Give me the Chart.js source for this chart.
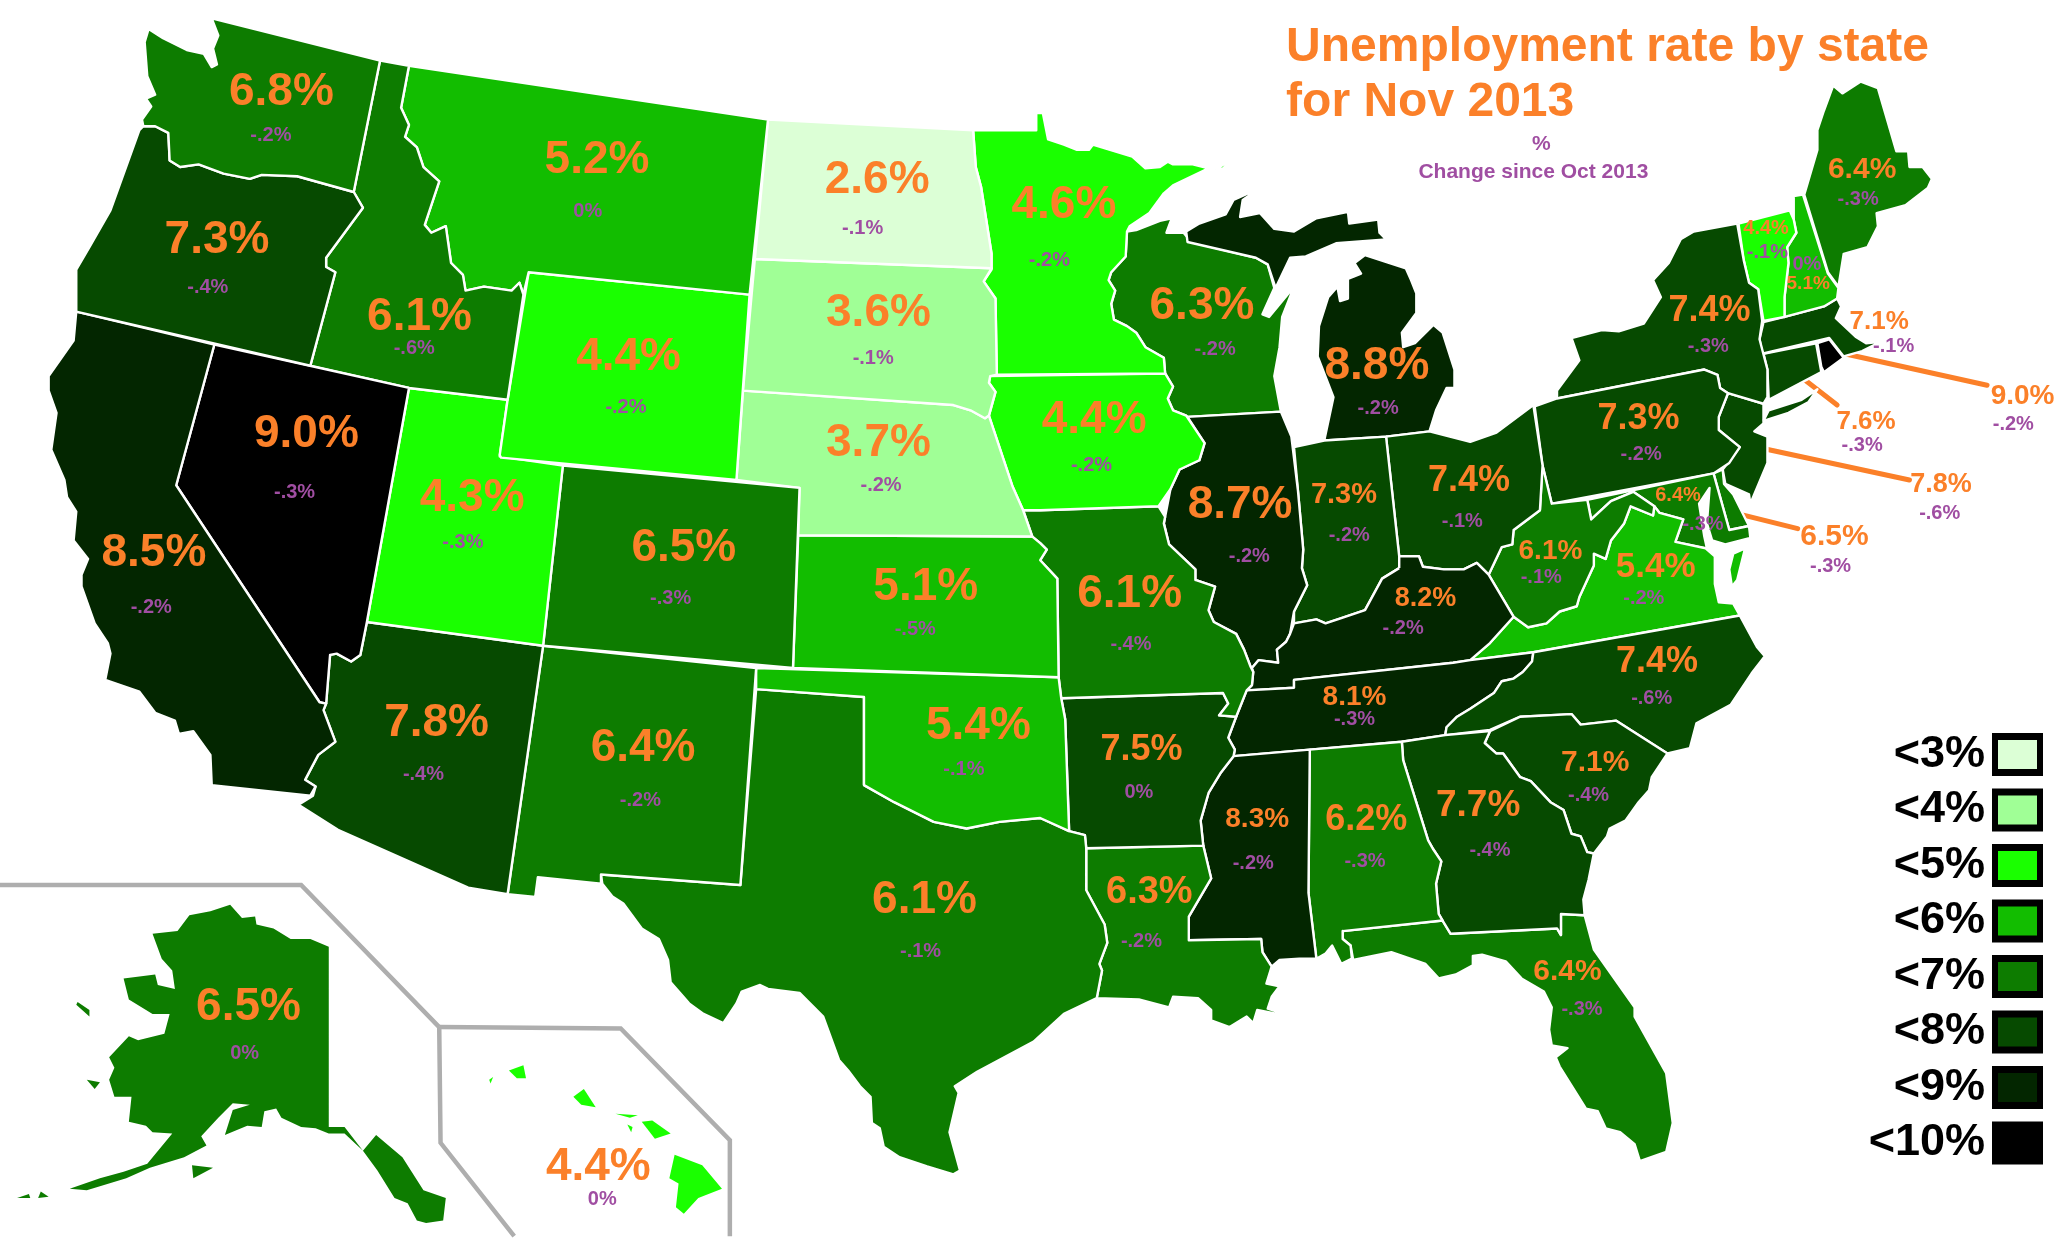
<!DOCTYPE html>
<html><head><meta charset="utf-8">
<style>html,body{margin:0;padding:0;background:#fff}canvas{display:block}</style>
<script src="https://cdn.jsdelivr.net/npm/chart.js@4"></script>
</head><body><canvas id="c" width="2062" height="1248" style="width:2062px;height:1248px"></canvas>
<script>
// ---- data ----
const stateCodes = ["WA","OR","CA","NV","ID","MT","WY","UT","CO","AZ","NM","ND","SD","NE","KS","OK","TX","MN","IA","MO","AR","LA","MS","AL","GA","SC","FL","NC","TN","KY","IL","IN","OH","MI","WI","WV","VA","MD","PA","NY","ME","VT","NH","MA","RI","CT","NJ","DE","AK","HI"];
const rates = [6.8,7.3,8.5,9.0,6.1,5.2,4.4,4.3,6.5,7.8,6.4,2.6,3.6,3.7,5.1,5.4,6.1,4.6,4.4,6.1,7.5,6.3,8.3,6.2,7.7,7.1,6.4,7.4,8.1,8.2,8.7,7.3,7.4,8.8,6.3,6.1,5.4,6.4,7.3,7.4,6.4,4.4,5.1,7.1,9.0,7.6,7.8,6.5,6.5,4.4];
const changes = ["-.2%","-.4%","-.2%","-.3%","-.6%","0%","-.2%","-.3%","-.3%","-.4%","-.2%","-.1%","-.1%","-.2%","-.5%","-.1%","-.1%","-.2%","-.2%","-.4%","0%","-.2%","-.2%","-.3%","-.4%","-.4%","-.3%","-.6%","-.3%","-.2%","-.2%","-.2%","-.1%","-.2%","-.2%","-.1%","-.2%","-.3%","-.2%","-.3%","-.3%","-.1%","0%","-.1%","-.2%","-.3%","-.6%","-.3%","0%","0%"];
const legendLabels = ["<3%","<4%","<5%","<6%","<7%","<8%","<9%","<10%"];
const legendLimits = [3,4,5,6,7,8,9,10];
const titleLines = ["Unemployment rate by state","for Nov 2013"];
const subtitleLines = ["%","Change since Oct 2013"];

// ---- presentation ----
const bucketColors = ["#dcffd6","#a0ff96","#1aff00","#12bd00","#0d7c00","#064a00","#032600","#000000"];
const ORANGE = "#fb8029", PURPLE = "#a04ea2", GREY = "#aeaeae";

// map geometry (state outlines) in map units
const statePaths = {
WA:[[113,22,124,29,142,38,155,41,161,51,165,49,162,37,166,27,161,14,289,46,269,146,226,134,199,133,190,136,170,132,151,125,137,127,129,122,128,101,118,96,109,96,108,91,115,81,111,75,118,72,112,58,110,32]],
OR:[[106,99,109,96,118,96,128,101,129,122,137,127,151,125,170,132,190,136,199,133,226,134,269,146,276,158,262,177,248,196,248,203,255,207,236,278,58,237,58,205,68,188,84,160]],
CA:[[58,237,163,262,134,369,243,534,248,535,246,540,255,564,242,574,232,593,240,598,236,605,161,597,160,574,147,556,136,558,133,548,118,542,106,526,80,517,84,497,82,489,72,474,62,446,62,437,67,425,56,411,58,389,51,378,49,365,39,342,43,314,37,297,37,286,56,259]],
NV:[[163,262,311,295,279,473,274,498,267,503,256,497,251,498,248,535,243,534,134,369]],
ID:[[289,46,311,50,305,82,311,95,308,104,317,112,322,127,334,138,323,171,328,177,339,172,343,200,352,209,354,221,368,218,389,221,395,215,398,224,386,304,311,295,236,278,255,207,248,203,248,196,262,177,276,158,269,146]],
MT:[[311,50,584,91,570,224,402,207,398,224,395,215,389,221,368,218,354,221,352,209,343,200,339,172,328,177,323,171,334,138,322,127,317,112,308,104,311,95,305,82]],
WY:[[402,207,570,224,560,365,381,348,380,346,386,304]],
UT:[[311,295,386,304,380,347,428,354,413,491,279,473]],
CO:[[428,354,608,371,603,508,413,491]],
AZ:[[279,473,413,491,386,680,356,675,257,631,227,612,238,605,240,598,232,593,242,574,255,564,246,540,248,535,251,498,256,497,267,503,274,498]],
NM:[[413,491,575,508,563,673,457,665,457,672,409,667,407,682,386,680]],
ND:[[584,91,740,99,742,127,746,142,754,193,754,204,574,197]],
SD:[[574,197,754,204,748,214,757,227,758,285,753,286,752,291,757,298,752,316,749,318,738,312,725,308,565,297]],
NE:[[565,297,725,308,738,312,749,318,752,316,770,370,778,388,785,408,607,407,608,371,560,365]],
KS:[[607,407,785,408,791,413,796,418,791,426,804,440,805,515,603,508]],
OK:[[575,508,805,515,807,531,810,547,813,632,791,622,760,625,735,630,710,625,680,610,657,597,657,530,575,524]],
TX:[[575,524,657,530,657,597,680,610,710,625,735,630,760,625,791,622,813,632,825,635,826,645,826,677,840,703,842,717,836,733,838,738,834,759,809,771,786,792,743,815,726,826,729,831,722,861,730,890,725,893,705,887,684,880,672,872,669,858,663,854,662,834,654,826,645,814,638,806,626,773,608,755,584,752,578,749,564,754,560,763,550,778,535,771,524,763,510,747,508,730,501,714,488,706,474,687,466,682,458,672,457,665,563,673]],
MN:[[740,99,788,99,788,86,793,86,797,106,809,110,819,114,828,114,831,110,861,119,871,128,882,127,888,123,892,125,907,125,919,128,892,141,885,147,874,162,859,172,857,176,856,195,845,207,843,213,848,221,845,231,847,243,857,248,864,253,871,264,885,272,886,284,758,285,757,227,748,214,754,205,754,193,746,142,742,127],[924,129,939,120,930,128]],
IA:[[753,286,886,284,892,294,888,303,892,312,902,316,916,337,912,350,897,357,890,372,881,385,791,388,778,388,770,370,752,316,757,298,752,291]],
MO:[[778,388,791,388,881,385,886,393,885,398,889,414,909,433,909,441,924,446,919,464,923,473,940,482,946,494,951,507,953,511,952,521,948,525,940,545,927,544,934,535,930,527,807,531,805,515,804,440,791,426,796,418,791,413,785,408]],
AR:[[807,531,930,527,934,535,927,544,940,545,934,561,939,570,938,575,928,588,919,603,913,624,915,643,826,645,825,635,813,632,810,547]],
LA:[[826,645,915,643,921,668,904,697,904,715,959,714,960,724,967,735,963,748,973,750,967,758,964,767,986,774,976,772,956,768,953,778,948,773,935,781,921,776,921,768,911,759,892,758,889,766,866,760,834,759,838,738,836,733,842,717,840,703,826,677]],
MS:[[938,575,996,570,995,679,1001,729,988,729,973,730,967,735,960,724,959,714,904,715,904,697,921,668,915,643,913,624,919,603,928,588]],
AL:[[996,570,1066,564,1067,578,1086,639,1090,646,1096,655,1092,672,1094,695,1097,700,1021,708,1021,714,1027,719,1028,729,1020,733,1013,719,1008,725,1001,729,995,679]],
GA:[[1066,564,1099,559,1133,556,1129,565,1138,573,1143,573,1156,591,1164,594,1179,610,1189,616,1195,634,1202,636,1207,648,1212,649,1208,669,1204,684,1205,696,1187,695,1187,711,1184,706,1103,710,1097,700,1094,695,1092,672,1096,655,1090,646,1086,639,1067,578]],
SC:[[1133,556,1156,545,1195,543,1202,551,1229,548,1268,573,1256,591,1254,601,1246,610,1236,624,1224,630,1222,636,1212,649,1207,648,1202,636,1195,634,1189,616,1179,610,1164,594,1156,591,1143,573,1138,573,1129,565]],
NC:[[1166,496,1323,468,1336,492,1342,499,1332,512,1316,536,1290,550,1285,569,1268,573,1229,548,1202,551,1195,543,1156,545,1133,555,1099,559,1100,553,1108,545,1118,539,1136,527,1142,518,1151,516,1158,511,1165,503]],
FL:[[1021,708,1097,700,1103,710,1184,706,1187,711,1187,695,1205,696,1212,722,1243,766,1243,773,1267,816,1272,854,1267,876,1247,883,1243,870,1232,861,1221,858,1215,845,1206,843,1186,811,1183,804,1192,797,1180,795,1178,783,1180,766,1174,754,1157,744,1145,731,1127,726,1120,727,1120,734,1107,741,1094,744,1084,733,1058,724,1029,730,1027,719,1021,714]],
TN:[[948,525,984,523,984,517,1105,504,1118,502,1166,496,1165,503,1158,511,1151,516,1142,518,1136,527,1118,539,1108,545,1100,553,1099,559,1066,564,996,570,938,575,939,570,934,561,940,545]],
KY:[[1064,432,1064,423,1079,423,1082,431,1098,433,1113,433,1123,428,1132,437,1151,469,1133,489,1118,502,1105,504,984,517,984,523,948,525,952,521,953,511,952,508,957,502,972,504,971,494,978,488,981,482,984,474,1001,471,1008,474,1020,470,1038,464,1051,440]],
IL:[[903,317,974,313,982,332,987,373,991,418,990,432,994,445,984,465,981,482,978,488,971,494,972,504,957,502,952,508,951,507,946,494,940,482,923,473,919,464,924,446,909,441,909,433,889,414,885,398,886,393,890,372,897,357,912,350,916,337]],
IN:[[984,340,1007,335,1054,332,1064,423,1064,432,1051,440,1038,464,1020,470,1008,474,1001,471,984,474,984,465,994,445,990,432,991,418,987,373]],
OH:[[1054,332,1087,328,1118,336,1138,329,1166,308,1173,354,1171,388,1151,403,1150,414,1142,416,1132,437,1123,428,1113,433,1098,433,1082,431,1079,423,1064,423]],
MI:[[902,176,912,170,932,163,938,152,958,143,945,152,943,165,958,162,969,174,984,176,1001,166,1025,161,1026,170,1048,167,1049,177,1054,182,1016,185,993,195,981,196,970,219,964,201,955,196,903,184],
    [1038,194,1069,204,1073,213,1077,223,1077,238,1066,253,1067,264,1076,261,1090,247,1097,253,1106,281,1106,295,1100,295,1092,312,1087,328,1054,332,1007,335,1014,302,1002,271,1003,248,1010,226,1017,218,1019,229,1025,227,1025,212,1035,208,1030,200]],
WI:[[857,176,864,175,882,168,891,166,887,177,900,177,906,184,955,196,964,201,969,219,960,239,965,241,984,218,975,241,973,264,969,286,974,313,903,317,902,316,892,312,888,303,892,294,886,284,885,272,871,264,864,253,857,248,847,243,845,231,848,221,843,213,845,207,856,195]],
WV:[[1173,354,1180,383,1207,380,1210,395,1225,381,1242,374,1258,385,1257,392,1240,385,1235,398,1225,411,1221,425,1212,421,1212,430,1201,454,1199,461,1186,465,1176,474,1162,477,1151,469,1132,437,1142,416,1150,414,1151,403,1171,388]],
VA:[[1240,385,1257,392,1258,385,1262,390,1280,395,1274,412,1297,417,1304,423,1304,444,1307,458,1318,459,1323,468,1166,496,1118,502,1133,489,1151,469,1162,477,1176,474,1186,465,1199,461,1201,454,1212,430,1212,421,1221,425,1225,411,1235,398],
    [1318,421,1327,417,1321,441,1317,446,1315,433]],
MD:[[1207,380,1303,360,1315,403,1330,400,1331,409,1312,414,1302,411,1298,398,1300,371,1292,383,1296,408,1298,417,1274,412,1280,395,1262,390,1258,385,1242,374,1225,381,1210,395]],
DE:[[1303,360,1310,357,1311,368,1318,376,1330,400,1315,403]],
PA:[[1167,309,1184,303,1296,281,1306,285,1308,295,1314,299,1307,317,1307,327,1323,340,1315,352,1303,360,1180,383,1173,354]],
NJ:[[1314,299,1341,307,1341,322,1334,328,1344,332,1344,352,1331,383,1330,376,1312,368,1310,357,1323,340,1307,327,1307,317]],
NY:[[1321,170,1326,198,1330,215,1337,220,1340,244,1338,258,1344,281,1344,302,1341,307,1314,299,1308,295,1306,285,1296,281,1184,303,1184,297,1201,274,1195,257,1218,251,1231,252,1250,246,1263,226,1257,213,1269,200,1278,182,1288,176],
    [1341,320,1345,312,1370,304,1382,296,1375,306,1360,314]],
CT:[[1341,269,1381,261,1385,283,1345,304,1344,281]],
RI:[[1382,261,1391,258,1402,272,1387,283,1385,279]],
MA:[[1341,245,1357,241,1387,233,1397,227,1400,233,1396,242,1411,256,1419,261,1430,260,1416,267,1402,271,1391,257,1340,269,1338,258]],
VT:[[1322,170,1361,160,1364,167,1366,177,1359,188,1360,200,1357,226,1357,241,1341,244,1337,220,1330,215,1326,198]],
NH:[[1364,149,1371,148,1390,208,1398,219,1397,227,1387,233,1357,241,1357,226,1360,200,1359,188,1366,177,1364,167]],
ME:[[1394,65,1401,71,1415,62,1428,67,1442,115,1451,115,1452,127,1462,127,1469,136,1466,143,1449,156,1427,162,1428,172,1420,188,1402,193,1398,218,1390,207,1372,148,1382,114,1382,99,1387,84]],
AK:[[175,688,184,698,194,697,195,703,208,706,221,714,236,714,250,720,250,857,262,857,276,875,286,863,306,880,322,905,339,911,337,928,324,930,317,928,310,915,300,911,287,890,276,875,262,862,250,862,240,858,229,857,214,850,210,843,201,845,199,857,188,856,171,863,177,844,190,840,177,839,166,850,153,864,157,871,140,880,114,888,96,896,66,905,53,904,76,896,94,891,112,885,131,862,116,861,111,856,98,853,100,834,87,834,83,821,87,812,83,804,98,788,105,791,125,786,129,771,116,771,98,760,94,744,118,741,120,749,133,752,131,738,123,729,116,710,135,708,144,696,160,693],
    [146,886,162,888,147,896],[59,762,68,768,68,773,58,764],[66,821,76,823,72,828],[13,911,22,908,23,911],[31,906,37,910,29,911]],
HI:[[387,814,398,810,400,820,393,820],[372,821,375,819,373,824],[436,834,444,828,453,842,442,840],[468,847,485,848,479,850],[477,855,481,857,480,861],[488,853,496,852,510,862,498,866],[513,878,534,886,549,904,531,911,520,923,514,918,516,900,509,896]]
};
// label anchors in map units: [rate x, rate y, rate font px, change x, change y, change font px]
const labelAnchors = {
WA:[214,68,46,206,102,20],OR:[165,181,46,158,218,20],CA:[117,419,46,115,461,20],NV:[233,328,46,224,374,20],ID:[319,239,46,315,264,20],MT:[454,120,46,447,160,20],WY:[478,270,46,476,309,20],UT:[359,377,46,352,412,20],CO:[520,415,46,510,454,20],AZ:[332,548,46,322,588,20],NM:[489,567,46,487,608,20],ND:[667,135,46,656,173,20],SD:[668,236,46,664,272,20],NE:[668,335,46,670,368,20],KS:[704,445,46,696,478,20],OK:[744,550,46,733,584,20],TX:[703,683,46,700,723,20],MN:[809,154,46,798,197,20],IA:[832,318,46,830,353,20],MO:[859,450,46,860,489,20],AR:[868,569,36,866,602,20],LA:[874,677,38,868,715,20],MS:[956,622,28,953,656,20],AL:[1039,622,36,1038,654,20],GA:[1124,611,37,1133,646,20],SC:[1213,579,30,1208,604,20],FL:[1192,738,30,1203,767,20],NC:[1260,502,36,1256,530,20],TN:[1030,529,28,1030,546,20],KY:[1084,454,27,1067,477,20],IL:[943,382,46,950,422,20],IN:[1022,375,29,1026,406,20],OH:[1117,364,36,1112,396,20],MI:[1047,277,46,1048,310,20],WI:[914,231,46,924,265,20],WV:[1179,418,28,1172,438,20],VA:[1259,430,35,1250,454,20],MD:[1276,376,20,1295,398,20],PA:[1246,317,36,1248,345,20],NY:[1300,235,36,1299,263,20],ME:[1416,128,30,1413,151,20],VT:[1343,173,20,1344,191,20],NH:[1375,215,19,1374,200,20],MA:[1429,244,26,1440,263,20],RI:[1538,300,28,1531,322,20],CT:[1419,320,26,1416,338,20],NJ:[1476,367,27,1475,390,20],DE:[1395,407,30,1392,430,20],AK:[189,764,46,186,800,20],HI:[455,886,46,458,911,20]
};
const leaderLines = [[1389,266,1511,293],[1361,280,1397,308],[1331,339,1452,365],[1315,389,1367,402]];
const insetFrames = [[0,673,229,673,334,781],[334,781,472,782,555,867,555,940],[334,781,335,869,391,940]];
const borderlessStates = ["AK","HI"];

function toPoints(flat,close){const p=[];for(let i=0;i<flat.length;i+=2)p.push({x:flat[i],y:flat[i+1]});if(close)p.push({x:flat[0],y:flat[1]});return p;}
function colorFor(v){const i=legendLimits.findIndex(l=>v<l);return bucketColors[i<0?7:i];}

const datasets=[];
stateCodes.forEach((code,i)=>{
  (statePaths[code]||[]).forEach(part=>{
    datasets.push({label:code,data:toPoints(part,true),showLine:true,fill:'shape',tension:0,pointRadius:0,pointHoverRadius:0,
      backgroundColor:colorFor(rates[i]),borderColor:'#ffffff',borderWidth:borderlessStates.includes(code)?0:2.4,borderJoinStyle:'round'});
  });
});
insetFrames.forEach(f=>datasets.push({label:'inset',data:toPoints(f,false),showLine:true,fill:false,tension:0,pointRadius:0,borderColor:GREY,borderWidth:4.5}));
leaderLines.forEach(f=>datasets.push({label:'leader',data:toPoints(f,false),showLine:true,fill:false,tension:0,pointRadius:0,borderColor:ORANGE,borderWidth:5,borderCapStyle:'round'}));

const textPlugin={id:'mapText',afterDatasetsDraw(chart){
  const {ctx,scales:{x,y}}=chart;
  const put=(t,px,py,size,color,align)=>{ctx.font=`bold ${size}px "Liberation Sans",Arial,sans-serif`;ctx.fillStyle=color;ctx.textAlign=align||'center';ctx.textBaseline='middle';ctx.fillText(t,px,py+size*0.055);};
  ctx.save();
  stateCodes.forEach((code,i)=>{
    const a=labelAnchors[code];
    put(rates[i].toFixed(1)+'%',x.getPixelForValue(a[0]),y.getPixelForValue(a[1]),a[2],ORANGE);
    put(changes[i],x.getPixelForValue(a[3]),y.getPixelForValue(a[4]),a[5],PURPLE);
  });
  put(titleLines[0],x.getPixelForValue(978),y.getPixelForValue(34),48,ORANGE,'left');
  put(titleLines[1],x.getPixelForValue(978),y.getPixelForValue(76),48,ORANGE,'left');
  put(subtitleLines[0],x.getPixelForValue(1172),y.getPixelForValue(109),21,PURPLE);
  put(subtitleLines[1],x.getPixelForValue(1166),y.getPixelForValue(130),21,PURPLE);
  legendLabels.forEach((t,i)=>{
    const top=733+i*55.5;
    put(t,1985,top+19,45,'#000000','right');
    ctx.fillStyle='#000';ctx.fillRect(1992,top,51,43);
    ctx.fillStyle=bucketColors[i];ctx.fillRect(1998,top+7,39,29);
  });
  ctx.restore();
}};

new Chart(document.getElementById('c'),{type:'scatter',data:{datasets},plugins:[textPlugin],options:{
  responsive:false,animation:false,events:[],layout:{padding:0},
  plugins:{legend:{display:false},tooltip:{enabled:false},title:{display:false}},
  scales:{x:{type:'linear',min:0,max:1568,display:false},y:{type:'linear',min:0,max:949,reverse:true,display:false}}
}});
</script></body></html>
